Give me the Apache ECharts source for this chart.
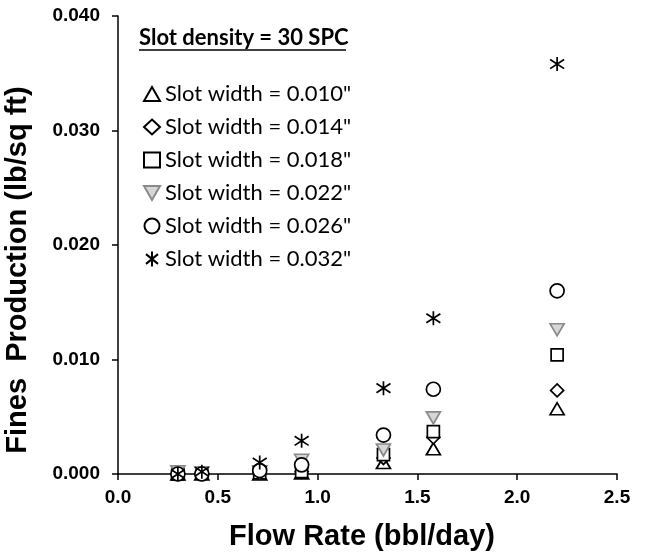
<!DOCTYPE html>
<html>
<head>
<meta charset="utf-8">
<script src="https://cdn.jsdelivr.net/npm/echarts@6/dist/echarts.min.js"></script>
<style>
  html, body { margin: 0; padding: 0; background: #fff; }
  #chart { width: 647px; height: 556px; }
</style>
</head>
<body>
<div id="chart"></div>
<script>
// Flow rate (bbl/day) at each test step
const flowRate = [0.30, 0.42, 0.71, 0.92, 1.33, 1.58, 2.20];

// Fines production (lb/sq ft) for each slot width
const slot010 = [0.0000, 0.0000, 0.0000, 0.0001, 0.0010, 0.0022, 0.0057];
const slot014 = [0.0000, 0.0000, 0.0001, 0.0002, 0.0014, 0.0032, 0.0073];
const slot018 = [0.0000, 0.0001, 0.0001, 0.0002, 0.0017, 0.0037, 0.0104];
const slot022 = [0.0002, 0.0001, 0.0002, 0.0012, 0.0021, 0.0049, 0.0126];
const slot026 = [0.0000, 0.0000, 0.0003, 0.0008, 0.0034, 0.0074, 0.0160];
const slot032 = [0.0000, 0.0002, 0.0010, 0.0029, 0.0075, 0.0136, 0.0358];

const seriesNames = [
  'Slot width = 0.010"', 'Slot width = 0.014"', 'Slot width = 0.018"',
  'Slot width = 0.022"', 'Slot width = 0.026"', 'Slot width = 0.032"'
];
const xTicks = ['0.0', '0.5', '1.0', '1.5', '2.0', '2.5'];
const yTicks = ['0.000', '0.010', '0.020', '0.030', '0.040'];

const pairs = ys => flowRate.map((x, i) => [x, ys[i]]);

const ASTERISK = 'path://M0,-1L0,1M-0.8,-0.65L0.8,0.65M-0.8,0.65L0.8,-0.65';
const DOWN_TRI = 'path://M0,0L2,0L1,1.75Z';
const UP_TRI = 'path://M1,0L2,1.75L0,1.75Z';

const styles = [
  { symbol: UP_TRI, size: [14, 12], stroke: '#000', fill: '#fff' },
  { symbol: 'diamond', size: [13, 13], stroke: '#000', fill: '#fff' },
  { symbol: 'rect', size: 12, stroke: '#000', fill: '#fff' },
  { symbol: DOWN_TRI, size: [14, 12], stroke: '#8a8a8a', fill: '#d6d6d6' },
  { symbol: 'circle', size: 14, stroke: '#000', fill: '#fff' },
  { symbol: ASTERISK, size: 14, stroke: '#000', fill: 'none' }
];
const data = [slot010, slot014, slot018, slot022, slot026, slot032];

const series = data.map((ys, k) => ({
  name: seriesNames[k],
  type: 'scatter',
  data: pairs(ys),
  symbol: styles[k].symbol,
  symbolSize: styles[k].size,
  itemStyle: {
    color: styles[k].fill,
    borderColor: styles[k].stroke,
    borderWidth: 1.7,
    opacity: 1
  },
  emphasis: { disabled: true },
  z: 2 + k
}));

const chart = echarts.init(document.getElementById('chart'), null, { renderer: 'canvas' });
const tickFont = { fontFamily: 'Liberation Sans, Arial, sans-serif', fontWeight: 'bold', fontSize: 19, color: '#000' };
const titleFont = 'bold 29px "Liberation Sans", Arial, sans-serif';

chart.setOption({
  animation: false,
  backgroundColor: '#fff',
  grid: { left: 118, right: 30, top: 16, bottom: 82, containLabel: false },
  xAxis: {
    type: 'value', min: 0, max: 2.5, interval: 0.5,
    axisLine: { show: true, onZero: false, lineStyle: { color: '#000', width: 1.5 } },
    axisTick: { show: true, length: 6, lineStyle: { color: '#000', width: 1.5 } },
    axisLabel: Object.assign({ margin: 14, formatter: (v, i) => xTicks[i] }, tickFont),
    splitLine: { show: false }
  },
  yAxis: {
    type: 'value', min: 0, max: 0.04, interval: 0.01,
    axisLine: { show: true, onZero: false, lineStyle: { color: '#000', width: 1.5 } },
    axisTick: { show: true, length: 6, lineStyle: { color: '#000', width: 1.5 } },
    axisLabel: Object.assign({ margin: 18, formatter: (v, i) => yTicks[i] }, tickFont),
    splitLine: { show: false }
  },
  legend: {
    orient: 'vertical', left: 138, top: 78,
    itemWidth: 16, itemHeight: 15, itemGap: 11,
    data: seriesNames,
    textStyle: { fontFamily: 'Lato, "Open Sans", sans-serif', fontSize: 22, lineHeight: 22, color: '#000' },
    selectedMode: false
  },
  graphic: [
    // axis titles
    {
      type: 'text', x: 18, y: 270, rotation: Math.PI / 2,
      style: { text: 'Fines  Production (lb/sq ft)', font: titleFont, fill: '#000', align: 'center', verticalAlign: 'middle' }
    },
    {
      type: 'text', x: 362, y: 537,
      style: { text: 'Flow Rate (bbl/day)', font: titleFont, fill: '#000', align: 'center', verticalAlign: 'middle' }
    },
    // underlined legend heading
    {
      type: 'text', left: 139, top: 27,
      style: { text: 'Slot density = 30 SPC', font: 'bold 22px Lato, "Open Sans", sans-serif', fill: '#000' }
    },
    {
      type: 'line', shape: { x1: 139, y1: 50, x2: 346, y2: 50 },
      style: { stroke: '#000', lineWidth: 1.6 }
    }
  ],
  series: series
});
</script>
</body>
</html>
